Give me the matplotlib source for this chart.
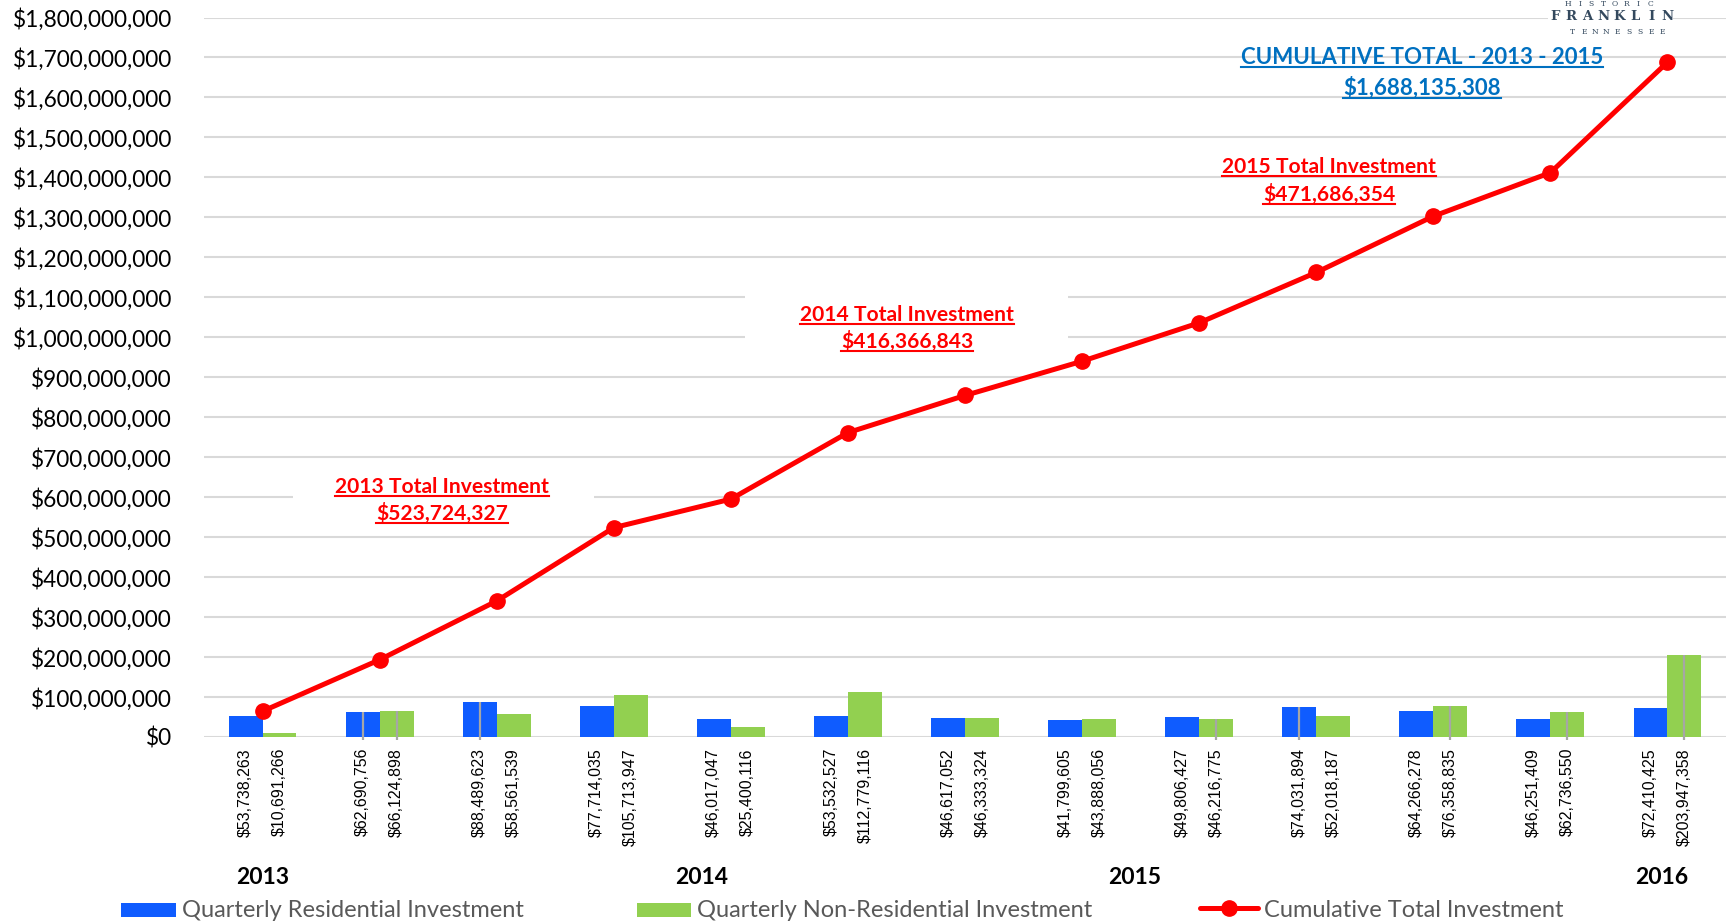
#!/usr/bin/env python3
"""Historic Franklin quarterly investment, 2013-2016: bars plus cumulative line."""

import matplotlib

matplotlib.use("Agg")
import matplotlib.pyplot as plt
import numpy as np
from matplotlib import font_manager
from matplotlib.lines import Line2D
from matplotlib.patches import Rectangle
from matplotlib.ticker import FuncFormatter
from matplotlib.transforms import IdentityTransform

# ---- data ------------------------------------------------------------------
RESIDENTIAL = [53738263, 62690756, 88489623, 77714035, 46017047, 53532527, 46617052,
               41799605, 49806427, 74031894, 64266278, 46251409, 72410425]
NON_RESIDENTIAL = [10691266, 66124898, 58561539, 105713947, 25400116, 112779116, 46333324,
                   43888056, 46216775, 52018187, 76358835, 62736550, 203947358]
CUMULATIVE = [64429529, 193245183, 340296345, 523724327, 595141490, 761453133, 854403509,
              940091170, 1036114372, 1162164453, 1302789566, 1411777525, 1688135308]
YEAR_LABELS = ["2013", "2014", "2015", "2016"]
YEAR_TOTAL_TITLES = ["2013 Total Investment", "2014 Total Investment", "2015 Total Investment"]
YEAR_TOTAL_VALUES = ["$523,724,327", "$416,366,843", "$471,686,354"]
CUMULATIVE_TITLE = "CUMULATIVE TOTAL - 2013 - 2015"
CUMULATIVE_VALUE = "$1,688,135,308"
LEGEND_LABELS = ["Quarterly Residential Investment", "Quarterly Non-Residential Investment",
                 "Cumulative Total Investment"]
# bars that show a thin grey centre line in the original (group, 0=residential/1=non-res)
MARKED_BARS = [(1, 0), (1, 1), (2, 0), (8, 1), (9, 0), (10, 1), (11, 1), (12, 1)]

# ---- layout (pixels of the 1726 x 923 output, y measured from the top) -----
W, H = 1726, 923
BLUE = "#0F5CFF"
GREEN = "#92D050"
RED = "#FF0000"
GRID = "#D9D9D9"
BAR_W = 0.29
YEAR_X = [0.0, 3.75, 7.45, 11.95]
TOTAL_POS = [(442, 493, 520), (907, 321, 348), (1329, 173, 201)]
TOTAL_BOXES = [(293, 468, 594, 530), (745, 290, 1068, 355)]

plt.rcParams["font.family"] = ["Lato", "DejaVu Sans"]


def narrow_font():
    """Arial Narrow look-alike if present, otherwise a smaller Liberation Sans."""
    try:
        font_manager.findfont(font_manager.FontProperties(family="Liberation Sans Narrow"),
                              fallback_to_default=False)
        return "Liberation Sans Narrow", 14
    except ValueError:
        return "Liberation Sans", 11.5


def pix(x, y_top):
    """Convert a top-left pixel position to display coordinates."""
    return x, H - y_top


def main() -> None:
    fig = plt.figure(figsize=(W / 100, H / 100), dpi=100)
    ax = fig.add_axes([204 / W, (H - 737) / H, 1 - 204 / W, (737 - 17.5) / H])
    ident = IdentityTransform()
    label_family, label_size = narrow_font()

    x = np.arange(len(RESIDENTIAL))
    ax.bar(x - BAR_W / 2, RESIDENTIAL, width=BAR_W, color=BLUE, zorder=2)
    ax.bar(x + BAR_W / 2, NON_RESIDENTIAL, width=BAR_W, color=GREEN, zorder=2)
    for group, series in MARKED_BARS:
        values = RESIDENTIAL if series == 0 else NON_RESIDENTIAL
        xc = group + (BAR_W / 2 if series else -BAR_W / 2)
        ax.vlines(xc, -8e6, values[group], color="#A6A6A6", linewidth=1.6,
                  zorder=2.5, clip_on=False)

    ax.plot(x, CUMULATIVE, color=RED, linewidth=3.6, marker="o", markersize=11,
            zorder=4, solid_capstyle="round")

    ax.set_xlim(-0.5, 12.5)
    ax.set_ylim(0, 1.8e9)
    ax.set_yticks(np.arange(0, 1.8e9 + 1, 1e8))
    ax.yaxis.set_major_formatter(FuncFormatter(lambda v, _: f"${v:,.0f}"))
    ax.set_xticks([])
    ax.tick_params(axis="y", length=0, pad=23, labelsize=16.3, labelcolor="black")
    ax.grid(axis="y", color=GRID, linewidth=1.5)
    ax.set_axisbelow(True)
    for spine in ax.spines.values():
        spine.set_visible(False)
    ax.patch.set_alpha(0)

    # value labels under every bar
    for i in range(len(RESIDENTIAL)):
        for off, val in ((-BAR_W / 2, RESIDENTIAL[i]), (BAR_W / 2, NON_RESIDENTIAL[i])):
            ax.annotate(f"${val:,.0f}", xy=(i + off, 0), xytext=(0, -11),
                        textcoords="offset pixels", rotation=90, ha="center",
                        va="top", fontsize=label_size, family=label_family,
                        color="black")

    for label, xpos in zip(YEAR_LABELS, YEAR_X):
        ax.annotate(label, xy=(xpos, 0), xytext=(0, -141), textcoords="offset pixels",
                    ha="center", va="center", fontsize=16.5, fontweight="bold",
                    color="black")

    # white text-box backgrounds that hide the gridlines
    for x0, y0, x1, y1 in TOTAL_BOXES:
        ax.add_patch(Rectangle(pix(x0, y1), x1 - x0, y1 - y0, transform=ident,
                               facecolor="white", edgecolor="none", zorder=1))
    ax.add_patch(Rectangle(pix(1548, 38), 125, 38, transform=ident,
                           facecolor="white", edgecolor="none", zorder=1))

    fig.canvas.draw()
    renderer = fig.canvas.get_renderer()

    def underlined(xc, y_base, text, color, size):
        t = fig.text(*pix(xc, y_base), text, transform=ident, ha="center",
                     va="baseline", fontsize=size, fontweight="bold", color=color)
        bb = t.get_window_extent(renderer)
        fig.add_artist(Line2D([bb.x0, bb.x1], [H - y_base - 3] * 2, transform=ident,
                              color=color, linewidth=1.5))

    for (xc, yb1, yb2), title, value in zip(TOTAL_POS, YEAR_TOTAL_TITLES, YEAR_TOTAL_VALUES):
        underlined(xc, yb1, title, RED, 15.1)
        underlined(xc, yb2, value, RED, 15.1)
    underlined(1422, 64, CUMULATIVE_TITLE, "#0070C0", 16)
    underlined(1422, 95, CUMULATIVE_VALUE, "#0070C0", 16)

    # logo text
    logo = "#34495E"

    def spaced(word, x0, x1, y_mid, size, weight):
        for ch, xc in zip(word, np.linspace(x0, x1, len(word))):
            fig.text(*pix(xc, y_mid), ch, transform=ident, ha="center", va="center",
                     fontsize=size, fontweight=weight, color=logo, family="DejaVu Serif")

    spaced("HISTORIC", 1568, 1650, 4, 5.5, "normal")
    spaced("FRANKLIN", 1555, 1667, 17, 9.5, "bold")
    spaced("TENNESSEE", 1573, 1662, 32, 5.5, "normal")

    # manual legend along the bottom
    legend_grey = "#595959"
    fig.add_artist(Rectangle(pix(121, 917), 55, 14, transform=ident, facecolor=BLUE,
                             edgecolor="none"))
    fig.text(*pix(182, 917), LEGEND_LABELS[0], transform=ident,
             va="baseline", fontsize=17, color=legend_grey)
    fig.add_artist(Rectangle(pix(637, 917), 54, 14, transform=ident, facecolor=GREEN,
                             edgecolor="none"))
    fig.text(*pix(697, 917), LEGEND_LABELS[1], transform=ident,
             va="baseline", fontsize=17, color=legend_grey)
    fig.add_artist(Line2D([1200, 1258], [H - 908] * 2, transform=ident, color=RED,
                          linewidth=3.6, solid_capstyle="round"))
    fig.add_artist(Line2D([1229], [H - 908], transform=ident, color=RED, marker="o",
                          markersize=11, linestyle="none"))
    fig.text(*pix(1264, 917), LEGEND_LABELS[2], transform=ident,
             va="baseline", fontsize=17, color=legend_grey)

    fig.savefig("out.png", dpi=100, facecolor="white")
    plt.close(fig)


if __name__ == "__main__":
    main()
